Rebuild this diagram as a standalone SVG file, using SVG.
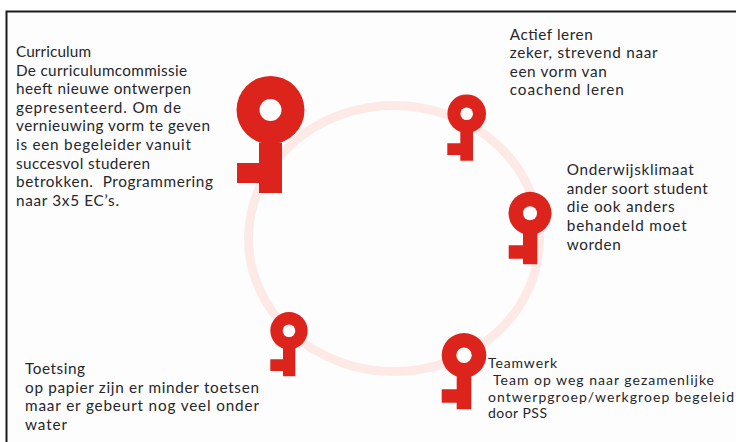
<svg xmlns="http://www.w3.org/2000/svg" width="736" height="442" viewBox="0 0 736 442">
<style>
.k{fill:#dc241c}
.h{fill:#fefefe}
text{font-family:"Lato","Noto Sans","Liberation Sans",sans-serif;font-size:15.300px;fill:#26262b}
.s{font-size:14px}
</style>
<rect width="736" height="442" fill="#ffffff"/>
<rect x="6" y="11" width="730" height="431" fill="#fdfdfd"/>
<path d="M6.500 442V11.500H736" fill="none" stroke="#1c1c1c" stroke-width="2"/>
<g id="connectors">
<ellipse cx="394" cy="238.500" rx="145.500" ry="133" fill="none" stroke="#fdeae7" stroke-width="9"/>
</g>
<g id="curriculum">
<path class="k" d="M259 163V142.500H282V193H259V183H237V163Z"/><circle class="k" cx="270.500" cy="110" r="34"/><circle class="h" cx="270.500" cy="110" r="11"/>
<text x="16" y="57" textLength="75" lengthAdjust="spacing">Curriculum</text>
<text x="16" y="75.600" textLength="171" lengthAdjust="spacing">De curriculumcommissie</text>
<text x="16" y="94.200" textLength="175" lengthAdjust="spacing">heeft nieuwe ontwerpen</text>
<text x="16" y="112.800" textLength="165" lengthAdjust="spacing">gepresenteerd. Om de</text>
<text x="16" y="131.400" textLength="194" lengthAdjust="spacing">vernieuwing vorm te geven</text>
<text x="16" y="150" textLength="175" lengthAdjust="spacing">is een begeleider vanuit</text>
<text x="16" y="168.600" textLength="134" lengthAdjust="spacing">succesvol studeren</text>
<text x="16" y="187.200" textLength="197" lengthAdjust="spacing" xml:space="preserve">betrokken.  Programmering</text>
<text x="16" y="205.800" textLength="103" lengthAdjust="spacing">naar 3x5 EC’s.</text>
</g>
<g id="actief-leren">
<path class="k" d="M460.300 143.300V125H473V160.700H460.300V155H447.300V143.300Z"/><circle class="k" cx="466.700" cy="113.700" r="19.300"/><circle class="h" cx="466.700" cy="113.700" r="6.300"/>
<text x="509.700" y="39.600" textLength="83" lengthAdjust="spacing">Actief leren</text>
<text x="509.700" y="58.200" textLength="148" lengthAdjust="spacing">zeker, strevend naar</text>
<text x="509.700" y="76.800" textLength="97" lengthAdjust="spacing">een vorm van</text>
<text x="509.700" y="95.400" textLength="114" lengthAdjust="spacing">coachend leren</text>
</g>
<g id="onderwijsklimaat">
<path class="k" d="M523 245.300V225H537.300V264.300H523V258.700H508.700V245.300Z"/><circle class="k" cx="530" cy="213.300" r="21.500"/><circle class="h" cx="530" cy="213.300" r="7"/>
<text x="566.700" y="175.200" textLength="127" lengthAdjust="spacing">Onderwijsklimaat</text>
<text x="566.700" y="193.800" textLength="141" lengthAdjust="spacing">ander soort student</text>
<text x="566.700" y="212.400" textLength="108" lengthAdjust="spacing">die ook anders</text>
<text x="566.700" y="231" textLength="120" lengthAdjust="spacing">behandeld moet</text>
<text x="566.700" y="249.600" textLength="54" lengthAdjust="spacing">worden</text>
</g>
<g id="teamwerk">
<path class="k" d="M456.700 389.300V368H471.300V409.300H456.700V402.700H441.700V389.300Z"/><circle class="k" cx="464" cy="355.300" r="22.300"/><circle class="h" cx="464" cy="355.300" r="7.700"/>
<text class="s" x="488" y="368" textLength="69" lengthAdjust="spacing">Teamwerk</text>
<text class="s" x="493" y="384.800" textLength="221" lengthAdjust="spacing">Team op weg naar gezamenlijke</text>
<text class="s" x="488" y="401.600" textLength="246" lengthAdjust="spacing">ontwerpgroep/werkgroep begeleid</text>
<text class="s" x="488" y="418.400" textLength="59" lengthAdjust="spacing">door PSS</text>
</g>
<g id="toetsing">
<path class="k" d="M283 359.300V342H295.300V376.300H283V371H270.300V359.300Z"/><circle class="k" cx="289" cy="330.700" r="18.700"/><circle class="h" cx="289" cy="330.700" r="6.300"/>
<text x="25" y="374" textLength="60" lengthAdjust="spacing">Toetsing</text>
<text x="25" y="392.600" textLength="234" lengthAdjust="spacing">op papier zijn er minder toetsen</text>
<text x="25" y="411.200" textLength="234" lengthAdjust="spacing">maar er gebeurt nog veel onder</text>
<text x="25" y="429.800" textLength="42" lengthAdjust="spacing">water</text>
</g>
</svg>
